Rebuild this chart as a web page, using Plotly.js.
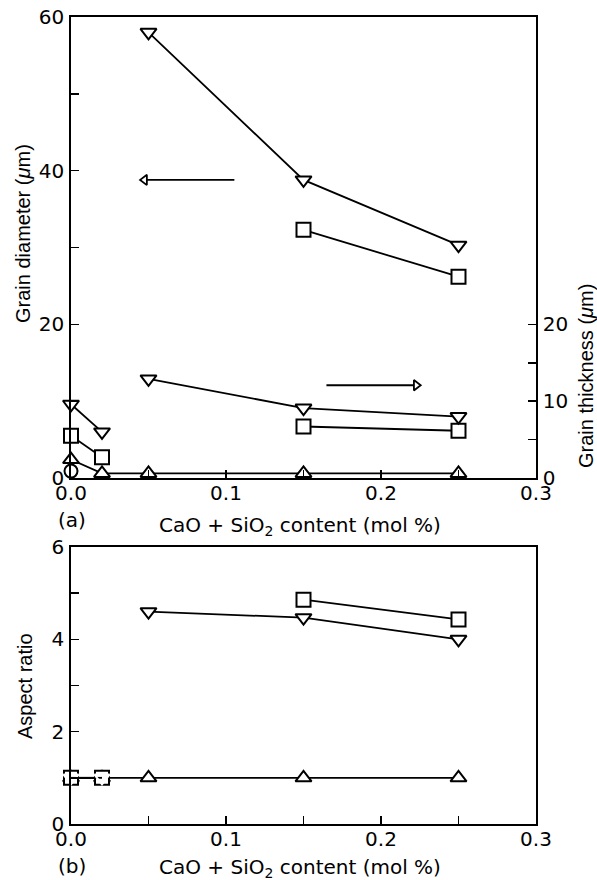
<!DOCTYPE html>
<html>
<head>
<meta charset="utf-8">
<script src="https://cdn.plot.ly/plotly-3.0.1.min.js"></script>
<style>html,body{margin:0;padding:0;background:#fff;}#chart{width:597px;height:880px;}</style>
</head>
<body>
<div id="chart"></div>
<script>
// ---------- data: panel (a) ----------
const xHigh = [0.05, 0.15, 0.25];
const diamTriDown = [58.0, 38.8, 30.3];
const thickTriDown = [12.9, 9.1, 8.0];
const xSqHigh = [0.15, 0.25];
const diamSquare = [32.3, 26.2];
const thickSquare = [6.7, 6.15];
const xLow = [0, 0.02];
const lowTriDown = [9.6, 6.0];
const lowSquare = [5.5, 2.7];
const xAll = [0, 0.02, 0.05, 0.15, 0.25];
const triUp = [2.4, 0.6, 0.6, 0.6, 0.6];
const xCircle = [0];
const circleVals = [0.9];
// arrows (direction indicators)
const arrowLeftX = [0.1054, 0.0475];
const arrowLeftY = [38.8, 38.8];
const arrowRightX = [0.1648, 0.2227];
const arrowRightY = [12.07, 12.07];

// ---------- data: panel (b) ----------
const aspTriDown = [4.6, 4.47, 4.0];
const aspSquare = [4.86, 4.43];
const aspLowSquare = [1.0, 1.0];
const aspLowTriDown = [1.0, 1.0];
const aspTriUp = [1.0, 1.0, 1.0, 1.0, 1.0];

// ---------- ticks ----------
const xTickVals = [0, 0.05, 0.1, 0.15, 0.2, 0.25, 0.3];
const xTickText = ['0.0', '', '0.1', '', '0.2', '', '0.3'];
const yaTickVals = [0, 10, 20, 30, 40, 50, 60];
const yaTickText = ['0', '', '20', '', '40', '', '60'];
const y2TickVals = [0, 5, 10, 15, 20];
const y2TickText = ['0', '', '10', '', '20'];
const ybTickVals = [0, 1, 2, 3, 4, 5, 6];
const ybTickText = ['0', '', '2', '', '4', '', '6'];

const FONT = 'Liberation Sans, Arial, Helvetica, sans-serif';
const WFONT = 'DejaVu Sans, Verdana, sans-serif';
const LW = 1.8;
const MS = 14;

function mk(symbol, size) {
  return {symbol: symbol, size: size || MS, color: 'white', line: {color: 'black', width: 2}};
}
function tr(x, y, symbol, xa, ya, size, mode) {
  return {x: x, y: y, xaxis: xa, yaxis: ya, mode: mode || 'lines+markers', type: 'scatter',
    line: {color: 'black', width: LW}, marker: mk(symbol, size), cliponaxis: false, showlegend: false, hoverinfo: 'skip'};
}

const traces = [
  // panel (a)
  tr(xAll, triUp, 'triangle-up', 'x', 'y2'),
  tr(xCircle, circleVals, 'circle', 'x', 'y2', 13, 'markers'),
  tr(xLow, lowSquare, 'square', 'x', 'y'),
  tr(xLow, lowTriDown, 'triangle-down', 'x', 'y'),
  tr(xSqHigh, diamSquare, 'square', 'x', 'y'),
  tr(xHigh, diamTriDown, 'triangle-down', 'x', 'y'),
  tr(xSqHigh, thickSquare, 'square', 'x', 'y2'),
  tr(xHigh, thickTriDown, 'triangle-down', 'x', 'y2'),
  // arrows
  {x: arrowLeftX, y: arrowLeftY, xaxis: 'x', yaxis: 'y', mode: 'lines', type: 'scatter',
   line: {color: 'black', width: 1.8}, showlegend: false, hoverinfo: 'skip'},
  {x: [arrowLeftX[1]], y: [arrowLeftY[1]], xaxis: 'x', yaxis: 'y', mode: 'markers', type: 'scatter',
   marker: {symbol: 'triangle-left', size: 9, color: 'white', line: {color: 'black', width: 1.8}}, showlegend: false, hoverinfo: 'skip'},
  {x: arrowRightX, y: arrowRightY, xaxis: 'x', yaxis: 'y2', mode: 'lines', type: 'scatter',
   line: {color: 'black', width: 1.8}, showlegend: false, hoverinfo: 'skip'},
  {x: [arrowRightX[1]], y: [arrowRightY[1]], xaxis: 'x', yaxis: 'y2', mode: 'markers', type: 'scatter',
   marker: {symbol: 'triangle-right', size: 9, color: 'white', line: {color: 'black', width: 1.8}}, showlegend: false, hoverinfo: 'skip'},
  // panel (b)
  tr(xAll, aspTriUp, 'triangle-up', 'x2', 'y3'),
  tr(xLow, aspLowSquare, 'square', 'x2', 'y3'),
  tr(xLow, aspLowTriDown, 'triangle-down-open', 'x2', 'y3', 13),
  tr(xSqHigh, aspSquare, 'square', 'x2', 'y3'),
  tr(xHigh, aspTriDown, 'triangle-down', 'x2', 'y3')
];

const tickFont = {family: WFONT, size: 20, color: 'black'};
const axBase = {showgrid: false, zeroline: false, showline: true, linecolor: 'black', linewidth: 1.8,
  ticks: 'inside', ticklen: 8, tickwidth: 1.5, tickcolor: 'black', tickfont: tickFont, automargin: false, fixedrange: true};

const xDom = [71/597, 536/597];
const layout = {
  width: 597, height: 880,
  margin: {l: 0, r: 0, t: 0, b: 0},
  paper_bgcolor: 'white', plot_bgcolor: 'white',
  font: {family: FONT, color: 'black'},
  showlegend: false,
  xaxis: Object.assign({}, axBase, {domain: xDom, range: [0, 0.3], anchor: 'y', mirror: true,
    tickmode: 'array', tickvals: xTickVals, ticktext: xTickText, ticklabelstandoff: -4}),
  yaxis: Object.assign({}, axBase, {domain: [1 - 478/880, 1 - 17/880], range: [0, 60], anchor: 'x',
    tickmode: 'array', tickvals: yaTickVals, ticktext: yaTickText, ticklabelstandoff: 1}),
  yaxis2: Object.assign({}, axBase, {overlaying: 'y', side: 'right', range: [0, 60], anchor: 'x',
    tickmode: 'array', tickvals: y2TickVals, ticktext: y2TickText, ticklabelstandoff: 1}),
  xaxis2: Object.assign({}, axBase, {domain: xDom, range: [0, 0.3], anchor: 'y3', mirror: true,
    tickmode: 'array', tickvals: xTickVals, ticktext: xTickText, ticklabelstandoff: -4}),
  yaxis3: Object.assign({}, axBase, {domain: [1 - 824/880, 1 - 547/880], range: [0, 6], anchor: 'x2', mirror: true,
    tickmode: 'array', tickvals: ybTickVals, ticktext: ybTickText, ticklabelstandoff: 1}),
  annotations: [
    {text: 'Grain diameter (<i>μ</i>m)', xref: 'paper', yref: 'paper', x: 23/597, y: 1 - 234/880,
     textangle: -90, showarrow: false, xanchor: 'center', yanchor: 'middle', font: {family: FONT, size: 20, color: 'black'}},
    {text: 'Grain thickness (<i>μ</i>m)', xref: 'paper', yref: 'paper', x: 586/597, y: 1 - 376/880,
     textangle: -90, showarrow: false, xanchor: 'center', yanchor: 'middle', font: {family: FONT, size: 20, color: 'black'}},
    {text: 'CaO + SiO<sub>2</sub> content (mol %)', xref: 'paper', yref: 'paper', x: 300/597, y: 1 - 526/880,
     showarrow: false, xanchor: 'center', yanchor: 'middle', font: {family: WFONT, size: 20, color: 'black'}},
    {text: '(a)', xref: 'paper', yref: 'paper', x: 72/597, y: 1 - 520/880,
     showarrow: false, xanchor: 'center', yanchor: 'middle', font: {family: WFONT, size: 20, color: 'black'}},
    {text: 'Aspect ratio', xref: 'paper', yref: 'paper', x: 25/597, y: 1 - 686/880,
     textangle: -90, showarrow: false, xanchor: 'center', yanchor: 'middle', font: {family: FONT, size: 20, color: 'black'}},
    {text: 'CaO + SiO<sub>2</sub> content (mol %)', xref: 'paper', yref: 'paper', x: 300/597, y: 1 - 868/880,
     showarrow: false, xanchor: 'center', yanchor: 'middle', borderpad: 0, font: {family: WFONT, size: 20, color: 'black'}},
    {text: '(b)', xref: 'paper', yref: 'paper', x: 72/597, y: 1 - 866/880,
     showarrow: false, xanchor: 'center', yanchor: 'middle', font: {family: WFONT, size: 20, color: 'black'}}
  ]
};

Plotly.newPlot('chart', traces, layout, {staticPlot: true, displayModeBar: false});
</script>
</body>
</html>
